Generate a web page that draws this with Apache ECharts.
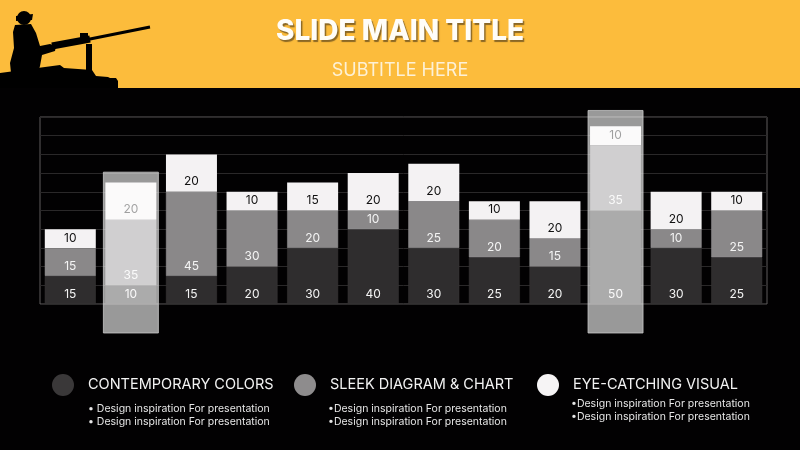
<!DOCTYPE html>
<html>
<head>
<meta charset="utf-8">
<script src="https://cdn.jsdelivr.net/npm/echarts@6/dist/echarts.min.js"></script>
<style>
  html, body { margin: 0; padding: 0; background: #020102; }
  #main { width: 800px; height: 450px; }
</style>
</head>
<body>
<div id="main"></div>
<script>
var categories = ['A', 'B', 'C', 'D', 'E', 'F', 'G', 'H', 'I', 'J', 'K', 'L'];
var bottomValues = [15, 10, 15, 20, 30, 40, 30, 25, 20, 50, 30, 25];
var middleValues = [15, 35, 45, 30, 20, 10, 25, 20, 15, 35, 10, 25];
var topValues = [10, 20, 20, 10, 15, 20, 20, 10, 20, 10, 20, 10];
// highlighted columns: [category index, from, to]
var highlights = [[1, -15.5, 70.5], [9, -15.5, 103.5]];

var legendNames = ['CONTEMPORARY COLORS', 'SLEEK DIAGRAM & CHART', 'EYE-CATCHING VISUAL'];
var legendLines = [
    ['\u2022 Design inspiration For presentation', '\u2022 Design inspiration For presentation'],
    ['\u2022Design inspiration For presentation', '\u2022Design inspiration For presentation'],
    ['\u2022Design inspiration For presentation', '\u2022Design inspiration For presentation']
];
var segColors = ['#2f2d2e', '#8a8889', '#f4f2f3'];

var FONT = 'Inter, "Open Sans", sans-serif';

function segLabel(color) {
    return {
        show: true,
        position: 'insideBottom',
        distance: 4,
        color: color,
        fontSize: 12,
        fontFamily: FONT
    };
}

var myChart = echarts.init(document.getElementById('main'));

// legend rows under the chart
var legendGraphics = [];
var legendX = [63, 305, 548];
legendNames.forEach(function (name, i) {
    legendGraphics.push({
        type: 'circle',
        shape: { cx: legendX[i], cy: 385, r: 11 },
        style: { fill: i == 0 ? '#3a3839' : (i == 1 ? '#8e8c8d' : '#f6f4f5') }
    });
    legendGraphics.push({
        type: 'text',
        x: legendX[i] + 25, y: 385,
        style: { text: name, fill: '#f2f2f2', fontSize: 14.5, fontFamily: FONT, verticalAlign: 'middle' }
    });
    legendLines[i].forEach(function (line, j) {
        legendGraphics.push({
            type: 'text',
            x: legendX[i] + (i == 0 ? 25 : 23), y: (i == 2 ? 404 : 409) + j * 13,
            style: { text: line, fill: '#e6e6e6', fontSize: 10.5, fontFamily: FONT, verticalAlign: 'middle' }
        });
    });
});

// soldier silhouette in the header
var soldier = [
    { type: 'circle', shape: { cx: 24, cy: 18, r: 7 }, style: { fill: '#000' } },
    { type: 'polygon', shape: { points: [[16, 16], [33, 14], [32, 20], [16, 21]] }, style: { fill: '#000' } },
    { type: 'polygon', shape: { points: [[15, 25], [31, 24], [36, 33], [40, 46], [50, 44], [56, 46], [55, 51], [42, 55], [40, 66], [38, 73], [11, 73], [10, 63], [14, 48], [13, 32]] }, style: { fill: '#000' } },
    { type: 'line', shape: { x1: 52, y1: 46, x2: 90, y2: 39 }, style: { stroke: '#000', lineWidth: 7 } },
    { type: 'line', shape: { x1: 85, y1: 40, x2: 150, y2: 27 }, style: { stroke: '#000', lineWidth: 3 } },
    { type: 'rect', shape: { x: 80, y: 33, width: 8, height: 9 }, style: { fill: '#000' } },
    { type: 'rect', shape: { x: 86, y: 44, width: 6, height: 30 }, style: { fill: '#000' } },
    { type: 'polygon', shape: { points: [[0, 73], [60, 65], [64, 68], [92, 70], [96, 76], [108, 77], [110, 78], [116, 78], [118, 81], [118, 88], [0, 88]] }, style: { fill: '#000' } }
];

var option = {
    backgroundColor: '#020102',
    animation: false,
    grid: {
        left: 40,
        right: 33,
        top: 117,
        bottom: 146,
        show: true,
        borderColor: '#5e5c5d',
        borderWidth: 1,
        backgroundColor: 'transparent'
    },
    xAxis: {
        type: 'category',
        data: categories,
        axisLine: { show: false },
        axisTick: { show: false },
        axisLabel: { show: false }
    },
    yAxis: {
        type: 'value',
        min: 0,
        max: 100,
        interval: 10,
        axisLabel: { show: false },
        axisLine: { show: false },
        axisTick: { show: false },
        splitLine: { lineStyle: { color: '#2a2829', width: 1 } }
    },
    graphic: [
        { type: 'rect', shape: { x: 0, y: 0, width: 800, height: 88 }, style: { fill: '#fcbc3c' }, z: -10 },
        {
            type: 'text', x: 400, y: 32,
            style: {
                text: 'SLIDE MAIN TITLE', fill: '#fffdf8', fontSize: 28, fontWeight: 800,
                fontFamily: FONT, align: 'center', verticalAlign: 'middle',
                textShadowColor: 'rgba(100,75,30,0.75)', textShadowOffsetX: 1.5, textShadowOffsetY: 2, textShadowBlur: 1
            }
        },
        {
            type: 'text', x: 400, y: 71,
            style: {
                text: 'SUBTITLE HERE', fill: '#fdf1d6', fontSize: 18, fontWeight: 400,
                fontFamily: FONT, align: 'center', verticalAlign: 'middle',
                textShadowColor: 'rgba(120,90,30,0.5)', textShadowOffsetX: 1, textShadowOffsetY: 1
            }
        }
    ].concat(soldier).concat(legendGraphics),
    series: [
        {
            name: 'bottom',
            type: 'bar',
            stack: 'all',
            barWidth: 51,
            data: bottomValues,
            itemStyle: { color: segColors[0], borderColor: '#3a3839', borderWidth: 0.5 },
            label: segLabel('#f4f4f4')
        },
        {
            name: 'middle',
            type: 'bar',
            stack: 'all',
            barWidth: 51,
            data: middleValues,
            itemStyle: { color: segColors[1], borderColor: '#959394', borderWidth: 0.5 },
            label: segLabel('#f4f4f4')
        },
        {
            name: 'top',
            type: 'bar',
            stack: 'all',
            barWidth: 51,
            data: topValues,
            itemStyle: { color: segColors[2] },
            label: segLabel('#111111')
        },
        {
            name: 'highlight',
            type: 'custom',
            z: 10,
            clip: false,
            data: highlights,
            encode: { x: 0, y: [1, 2] },
            renderItem: function (params, api) {
                var p1 = api.coord([api.value(0), api.value(2)]);
                var p2 = api.coord([api.value(0), api.value(1)]);
                var w = 55;
                return {
                    type: 'rect',
                    shape: { x: p1[0] - w / 2, y: p1[1], width: w, height: p2[1] - p1[1] },
                    style: { fill: 'rgba(255,255,255,0.6)', stroke: 'rgba(200,200,200,0.8)', lineWidth: 1 }
                };
            }
        }
    ]
};

myChart.setOption(option);
</script>
</body>
</html>
